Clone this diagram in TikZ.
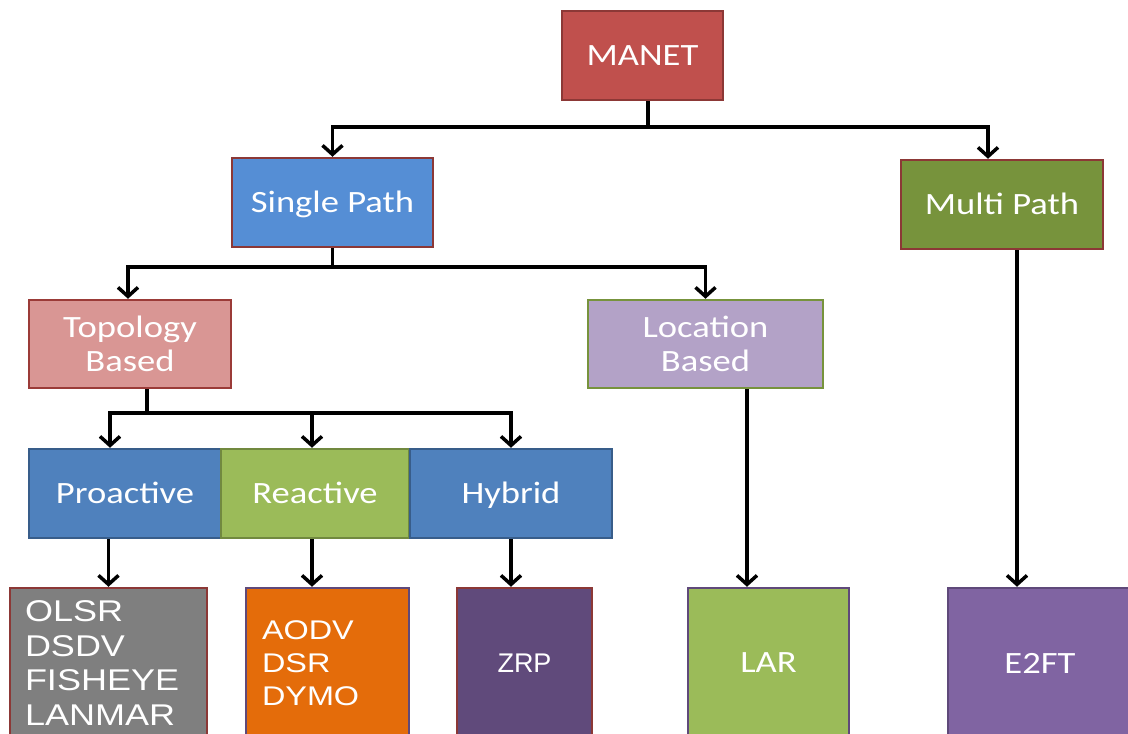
\documentclass[tikz,border=0pt]{standalone}
\usepackage{fontspec}
\usepackage{tikz}
\usetikzlibrary{arrows.meta}
\newfontfamily\calibrifont[FakeStretch=1.18]{Carlito}
\newfontfamily\arialfont{Liberation Sans}
\newfontfamily\arialwide[FakeStretch=1.2]{Liberation Sans}

\definecolor{manetred}{HTML}{C0504D}
\definecolor{darkred}{HTML}{8C3836}
\definecolor{singleblue}{HTML}{558ED5}
\definecolor{multigreen}{HTML}{77933C}
\definecolor{topopink}{HTML}{D99694}
\definecolor{topoborder}{HTML}{9B3B38}
\definecolor{loclilac}{HTML}{B3A2C7}
\definecolor{ofblue}{HTML}{4F81BD}
\definecolor{ofblueborder}{HTML}{385D8A}
\definecolor{ofgreen}{HTML}{9BBB59}
\definecolor{ofgreenborder}{HTML}{71893F}
\definecolor{protogray}{HTML}{7F7F7F}
\definecolor{protoorange}{HTML}{E46C0A}
\definecolor{protoplum}{HTML}{604A7B}
\definecolor{protopurple}{HTML}{8064A2}
\definecolor{purpleborder}{HTML}{5F497A}

\tikzset{
  box/.style={draw, line width=2.5pt, rectangle, text=white, align=center,
    inner sep=0pt, font=\calibrifont\fontsize{31}{34.5}\selectfont},
  oneline/.style={text height=19.6pt, text depth=0pt},
  protobox/.style={draw, line width=2.5pt, rectangle, text=white,
    minimum height=150pt, font=\arialfont\fontsize{27}{30}\selectfont},
  widetext/.style 2 args={font=\arialwide\fontsize{#1}{#2}\selectfont},
  arr/.style={line width=3.5pt, -{Straight Barb[length=9pt,width=20pt]}},
  link/.style={line width=3.5pt}
}

\begin{document}
\begin{tikzpicture}[x=1pt,y=-1pt]
  \useasboundingbox (0,0) rectangle (1128,734);
  \clip (0,0) rectangle (1128,734);

  % root and path type
  \node[box, oneline, fill=manetred, draw=darkred, minimum width=161pt, minimum height=89pt] (manet) at (642.5,55.5) {MANET};
  \node[box, oneline, fill=singleblue, draw=darkred, minimum width=201pt, minimum height=89pt] (single) at (332.5,202.5) {Single Path};
  \node[box, oneline, fill=multigreen, draw=darkred, minimum width=202pt, minimum height=89pt] (multi) at (1002,204.5) {Multi Path};

  % single path classes
  \node[box, fill=topopink, draw=topoborder, minimum width=202pt, minimum height=88pt] (topo) at (130,344) {Topology\\Based};
  \node[box, fill=loclilac, draw=multigreen, minimum width=235pt, minimum height=88pt] (loc) at (705.5,344) {Location\\Based};

  % topology based classes
  \node[box, oneline, fill=ofblue, draw=ofblueborder, minimum width=192pt, minimum height=89pt] (pro) at (125,493.5) {Proactive};
  \node[box, oneline, fill=ofgreen, draw=ofgreenborder, minimum width=188pt, minimum height=89pt] (reac) at (315,493.5) {Reactive};
  \node[box, oneline, fill=ofblue, draw=ofblueborder, minimum width=202pt, minimum height=89pt] (hyb) at (511,493.5) {Hybrid};

  % protocols
  \node[protobox, widetext={30}{34.5}, fill=protogray, draw=darkred, inner xsep=15pt, text width=167pt, align=left] (olsr) at (108.5,663) {OLSR\\DSDV\\FISHEYE\\LANMAR};
  \node[protobox, widetext={27}{33}, fill=protoorange, draw=purpleborder, inner xsep=16pt, text width=131pt, align=left] (aodv) at (327.5,663) {AODV\\DSR\\DYMO};
  \node[protobox, fill=protoplum, draw=darkred, minimum width=135pt] (zrp) at (524.5,663) {ZRP};
  \node[protobox, fill=ofgreen, draw=purpleborder, minimum width=161pt, font=\calibrifont\fontsize{31}{34.5}\selectfont] (lar) at (768.5,663) {LAR};
  \node[protobox, fill=protopurple, draw=purpleborder, minimum width=184pt, font=\calibrifont\fontsize{31}{34.5}\selectfont] (e2ft) at (1040,663) {E2FT};

  % connectors
  \coordinate (jmanet) at (648,127);
  \draw[link] ([xshift=5.5pt]manet.south) -- (jmanet);
  \draw[arr] (jmanet) -| (single.north);
  \draw[arr] (jmanet) -| ([xshift=-14pt]multi.north);

  \coordinate (jsingle) at (332.5,267);
  \draw[link] (single.south) -- (jsingle);
  \draw[arr] (jsingle) -| ([xshift=-2pt]topo.north);
  \draw[arr] (jsingle) -| (loc.north);

  \coordinate (jtopo) at (147,413);
  \draw[link] ([xshift=17pt]topo.south) -- (jtopo);
  \draw[arr] (jtopo) -| ([xshift=-15pt]pro.north);
  \draw[arr] (jtopo) -| ([xshift=-3pt]reac.north);
  \draw[arr] (jtopo) -| (hyb.north);

  \draw[arr] (olsr.north |- pro.south) -- (olsr.north);
  \draw[arr] ([xshift=-3pt]reac.south) -- ([xshift=-3pt]reac.south |- aodv.north);
  \draw[arr] (hyb.south) -- (hyb.south |- zrp.north);
  \draw[arr] ([xshift=41.5pt]loc.south) -- ([xshift=41.5pt]loc.south |- lar.north);
  \draw[arr] ([xshift=15pt]multi.south) -- ([xshift=15pt]multi.south |- e2ft.north);
\end{tikzpicture}
\end{document}
